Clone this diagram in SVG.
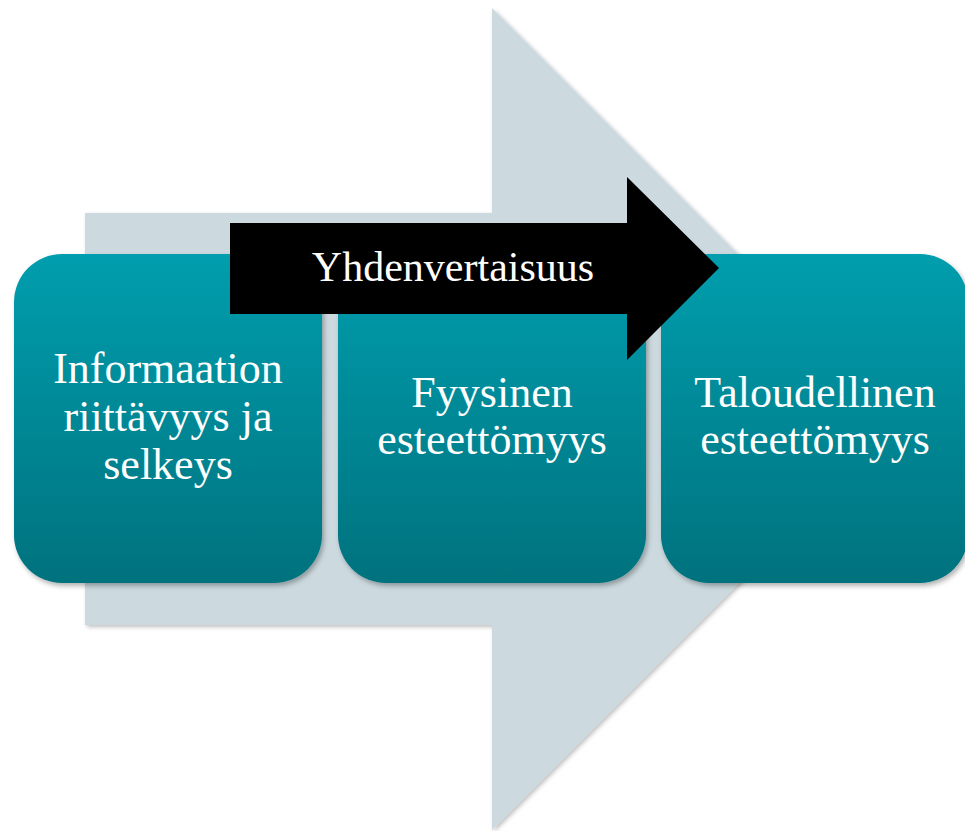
<svg xmlns="http://www.w3.org/2000/svg" width="965" height="831" viewBox="0 0 965 831">
  <defs>
    <linearGradient id="teal" x1="0" y1="0" x2="0" y2="1">
      <stop offset="0" stop-color="#009EAE"/>
      <stop offset="1" stop-color="#00727E"/>
    </linearGradient>
    <filter id="shadow" x="-10%" y="-10%" width="125%" height="125%">
      <feDropShadow dx="2" dy="3" stdDeviation="2.5" flood-color="#000" flood-opacity="0.3"/>
    </filter>
    <filter id="shadowBig" x="-5%" y="-5%" width="112%" height="112%">
      <feDropShadow dx="2" dy="2" stdDeviation="2" flood-color="#000" flood-opacity="0.25"/>
    </filter>
  </defs>
  <style>
    .box { fill: url(#teal); filter: url(#shadow); }
    .lbl { font-size: 44px; fill: #FFFFFF; text-anchor: middle; }
    .ban { font-size: 42px; fill: #FFFFFF; text-anchor: middle; }
  </style>
  <rect width="965" height="831" fill="#FFFFFF"/>
  <g id="connectors">
    <path id="bigArrow" d="M85,213 H492 V8 L903,419 L492,830 V625 H85 Z" fill="#CCDADF" filter="url(#shadowBig)"/>
  </g>
  <g font-family="Liberation Serif, DejaVu Serif, serif">
  <g id="node1">
    <rect class="box" x="14" y="254" width="308" height="329" rx="48" ry="48"/>
    <text class="lbl" x="168" y="383">Informaation</text>
    <text class="lbl" x="168" y="431">riittävyys ja</text>
    <text class="lbl" x="168" y="479">selkeys</text>
  </g>
  <g id="node2">
    <rect class="box" x="338" y="254" width="308" height="329" rx="48" ry="48"/>
    <text class="lbl" x="492" y="407">Fyysinen</text>
    <text class="lbl" x="492" y="454">esteettömyys</text>
  </g>
  <g id="node3">
    <rect class="box" x="661" y="254" width="307" height="329" rx="48" ry="48"/>
    <text class="lbl" x="815" y="407">Taloudellinen</text>
    <text class="lbl" x="815" y="454">esteettömyys</text>
  </g>
  <g id="banner">
    <path d="M230,223 H627 V177 L719,268 L627,360 V314 H230 Z" fill="#000000"/>
    <text class="ban" x="453" y="281">Yhdenvertaisuus</text>
  </g>
  </g>
</svg>
